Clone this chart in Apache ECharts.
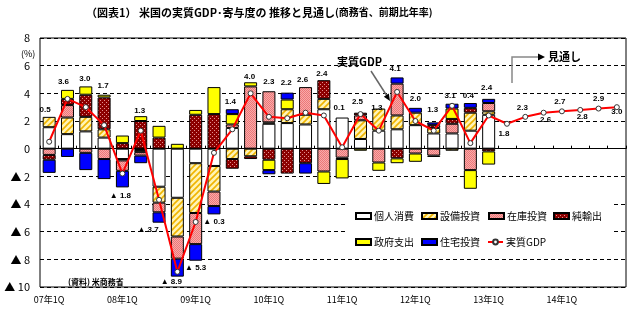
<!DOCTYPE html>
<html><head><meta charset="utf-8">
<script src="https://cdn.jsdelivr.net/npm/echarts/dist/echarts.min.js"></script>
<style>html,body{margin:0;padding:0;background:#fff}#c{width:644px;height:329px}</style>
</head><body><div id="c"></div>
<script>
// ---- data ----
const categories = ['07年1Q','07年2Q','07年3Q','07年4Q','08年1Q','08年2Q','08年3Q','08年4Q','09年1Q','09年2Q','09年3Q','09年4Q','10年1Q','10年2Q','10年3Q','10年4Q','11年1Q','11年2Q','11年3Q','11年4Q','12年1Q','12年2Q','12年3Q','12年4Q','13年1Q','13年2Q','13年3Q','13年4Q','14年1Q','14年2Q','14年3Q','14年4Q'];
const consumption = [1.55,1.05,1.25,0.8,-0.75,-0.1,-2.75,-3.55,-1.05,-1.25,1.5,'-',1.8,1.85,1.75,2.85,2.25,0.7,1.3,1.4,1.7,1.1,1.1,1.3,2.45];
const equipment   = [0.75,1.2,1.05,0.6,-0.1,-0.15,-1.15,-2.8,-3.6,-1.85,-0.75,-0.55,0.1,1.0,0.7,0.75,'-',1.35,1.6,1.0,0.9,0.4,-0.15,1.3,0.25];
const inventory   = [-0.45,0.9,-0.3,-0.75,-0.75,-0.25,-0.7,-1.6,-2.25,-1.05,0.25,4.5,2.25,'-',2.0,-1.65,-0.65,0.35,-1.0,2.3,-0.35,-0.5,0.7,-1.55,0.6];
const netExports  = [-0.35,0.45,1.6,2.3,0.4,2.0,0.8,'-',2.45,2.5,-0.7,-0.2,-0.8,-1.8,-1.05,1.35,-0.1,0.2,'-',-0.7,'-',0.2,0.35,0.35,-0.2];
const government  = ['-',0.65,0.6,0.2,0.55,0.35,0.85,0.35,0.35,1.95,0.75,0.3,-0.75,0.7,'-',-0.9,-1.4,-0.15,-0.6,-0.35,-0.6,-0.1,0.75,-1.35,-0.95];
const housing     = [-0.95,-0.6,-1.25,-1.45,-1.2,-0.55,-0.75,-1.3,-1.2,-0.6,0.35,'-',-0.3,0.5,-0.75,'-','-','-','-',0.45,0.35,0.2,0.35,0.35,0.3];
const realGDP     = [0.5,3.6,3.0,1.7,-1.8,1.3,-3.7,-8.9,-5.3,-0.3,1.4,4.0,2.3,2.2,2.6,2.4,0.1,2.5,1.3,4.1,2.0,1.3,3.1,0.4,2.4,1.8,2.3,2.6,2.7,2.8,2.9,3.0];
const seriesNames = ['個人消費','設備投資','在庫投資','純輸出','政府支出','住宅投資','実質GDP'];
const yTicks = [-10,-8,-6,-4,-2,0,2,4,6,8];

// ---- styles (label offsets relative to each GDP point) ----
const labelOffsets = [[-4,-32],[-4,-17],[-1,-28],[-1,-39],[-2,22],[-1,-20],[-11,30],[-6,10],[0,46],[0,69],[-2,-28],[-1,-17],[0,-35],[-1,-35],[-3,-33],[-2,-42],[-3,-39],[-3,-12],[-2,-23],[-2,-23],[0,-22],[-1,-21],[-2,-10],[-2,-47],[-2,-28],[-3,10],[-3,-9],[2,7],[-2,-10],[2,7],[0,-10],[0,5]];

function mkPattern(w,h,draw){const c=document.createElement('canvas');c.width=w;c.height=h;const g=c.getContext('2d');draw(g);return {image:c,repeat:'repeat'};}
const hatch = mkPattern(6,6,g=>{g.fillStyle='#FFF4B5';g.fillRect(0,0,6,6);g.strokeStyle='#F0B400';g.lineWidth=1.6;
  [[-6,6,6,-6],[0,6,6,0],[0,12,12,0],[-3,9,9,-3]].forEach(()=>{});
  g.beginPath();g.moveTo(0,6);g.lineTo(6,0);g.moveTo(-3,3);g.lineTo(3,-3);g.moveTo(3,9);g.lineTo(9,3);g.stroke();});
const pink = mkPattern(2,2,g=>{g.fillStyle='#F8AAAA';g.fillRect(0,0,2,2);g.fillStyle='#EC7878';g.fillRect(0,0,1,1);g.fillRect(1,1,1,1);});
const maroon = mkPattern(4,4,g=>{g.fillStyle='#8C0000';g.fillRect(0,0,4,4);g.fillStyle='#E39090';g.fillRect(0,0,1,1);g.fillRect(2,2,1,1);});
const fills = ['#FFFFFF',hatch,pink,maroon,'#FFFF00','#0000FF'];
const barData = [consumption,equipment,inventory,netExports,government,housing];

const FONT = "'Noto Sans CJK JP','Noto Sans',sans-serif";
const fmt = v => v < 0 ? '▲ ' + Math.abs(v).toFixed(1) : v.toFixed(1);

const series = barData.map((d,k)=>({
  name: seriesNames[k], type:'bar', stack:'total', xAxisIndex:0, yAxisIndex:0,
  barWidth:13, data:d,
  itemStyle:{color:fills[k], borderColor:'#000', borderWidth:1},
  emphasis:{disabled:true}
}));
series.push({
  name: seriesNames[6], type:'line', xAxisIndex:0, yAxisIndex:0, z:5,
  data: realGDP.map((v,i)=>({value:v, label:{offset:labelOffsets[i]}})),
  symbol:'circle', symbolSize:5,
  lineStyle:{color:'#FF0000', width:2},
  itemStyle:{color:'#FFFFFF', borderColor:'#333', borderWidth:1},
  label:{show:true, position:'inside', formatter:p=>fmt(p.value), fontSize:8, fontWeight:'bold', color:'#000', fontFamily:"'Liberation Sans',Arial,sans-serif"},
  emphasis:{disabled:true}
});

const legendPos = [[355,211],[421,211],[488,211],[553,211],[355,237],[421,237],[487,237]];
const legends = seriesNames.map((n,k)=>({
  data:[n], left:legendPos[k][0], top:legendPos[k][1], padding:0,
  itemWidth:15, itemHeight:6, itemGap:0, selectedMode:false,
  icon: k<6 ? 'rect' : undefined,
  textStyle:{fontSize:10, color:'#000', fontFamily:FONT, padding:[0,0,0,-2]}
}));

const chart = echarts.init(document.getElementById('c'), null, {renderer:'canvas'});
chart.setOption({
  animation:false,
  backgroundColor:'#fff',
  title:{
    left:86, top:7, padding:0,
    text:'{a|（図表1） 米国の実質GDP･寄与度の 推移と見通し}{b|(商務省、前期比年率)}',
    textStyle:{rich:{a:{fontSize:11, color:'#000', fontFamily:FONT}, b:{fontSize:10, color:'#000', fontFamily:FONT}}}
  },
  legend: legends,
  grid:{left:40, right:18, top:38, bottom:42, show:true, borderColor:'#000', borderWidth:1, outerBoundsMode:'none', containLabel:false},
  xAxis:[
    {type:'category', data:categories, position:'bottom', boundaryGap:true,
     axisLine:{show:true, onZero:true, lineStyle:{color:'#000', width:1}},
     axisTick:{show:true, inside:true, length:3, interval:0, lineStyle:{color:'#000'}},
     axisLabel:{show:false}, splitLine:{show:false}},
    {type:'category', data:categories, position:'bottom', boundaryGap:true,
     axisLine:{show:false, onZero:false}, axisTick:{show:false}, splitLine:{show:false},
     axisLabel:{interval:3, fontSize:9, margin:8, color:'#000', fontFamily:FONT}}
  ],
  yAxis:{type:'value', min:yTicks[0], max:yTicks[yTicks.length-1], interval:2,
    axisLine:{show:false}, axisTick:{show:false},
    splitLine:{show:true, lineStyle:{color:'#000', type:[4,3], width:1}},
    axisLabel:{margin:10, fontSize:11, color:'#000', fontFamily:FONT, formatter:v=> v<0 ? '▲ '+(-v) : String(v)}},
  graphic:[
    {type:'rect', z:1, shape:{x:348, y:183, width:266, height:73}, style:{fill:'#fff'}, silent:true},
    {type:'text', z:10, left:21, top:49, style:{text:'(%)', fontSize:9, fill:'#000', fontFamily:FONT}},
    {type:'text', z:10, left:68, top:278, style:{text:'(資料) 米商務省', fontSize:8, fontWeight:'bold', fill:'#000', fontFamily:FONT}},
    {type:'text', z:10, left:337, top:56, style:{text:'実質GDP', fontSize:11, fontWeight:'bold', fill:'#000', fontFamily:FONT}},
    {type:'line', z:10, shape:{x1:371, y1:71, x2:387, y2:96}, style:{stroke:'#666', lineWidth:1.5}},
    {type:'polygon', z:10, shape:{points:[[390,101],[383.8,96.7],[388.8,93.5]]}, style:{fill:'#000'}},
    {type:'polyline', z:10, shape:{points:[[512,83],[512,57],[539,57]]}, style:{stroke:'#888', lineWidth:1.5, fill:null}},
    {type:'polygon', z:10, shape:{points:[[545,57],[538,53.5],[538,60.5]]}, style:{fill:'#000'}},
    {type:'text', z:10, left:548, top:51, style:{text:'見通し', fontSize:11, fontWeight:'bold', fill:'#000', fontFamily:FONT}}
  ],
  series: series
});
</script></body></html>
